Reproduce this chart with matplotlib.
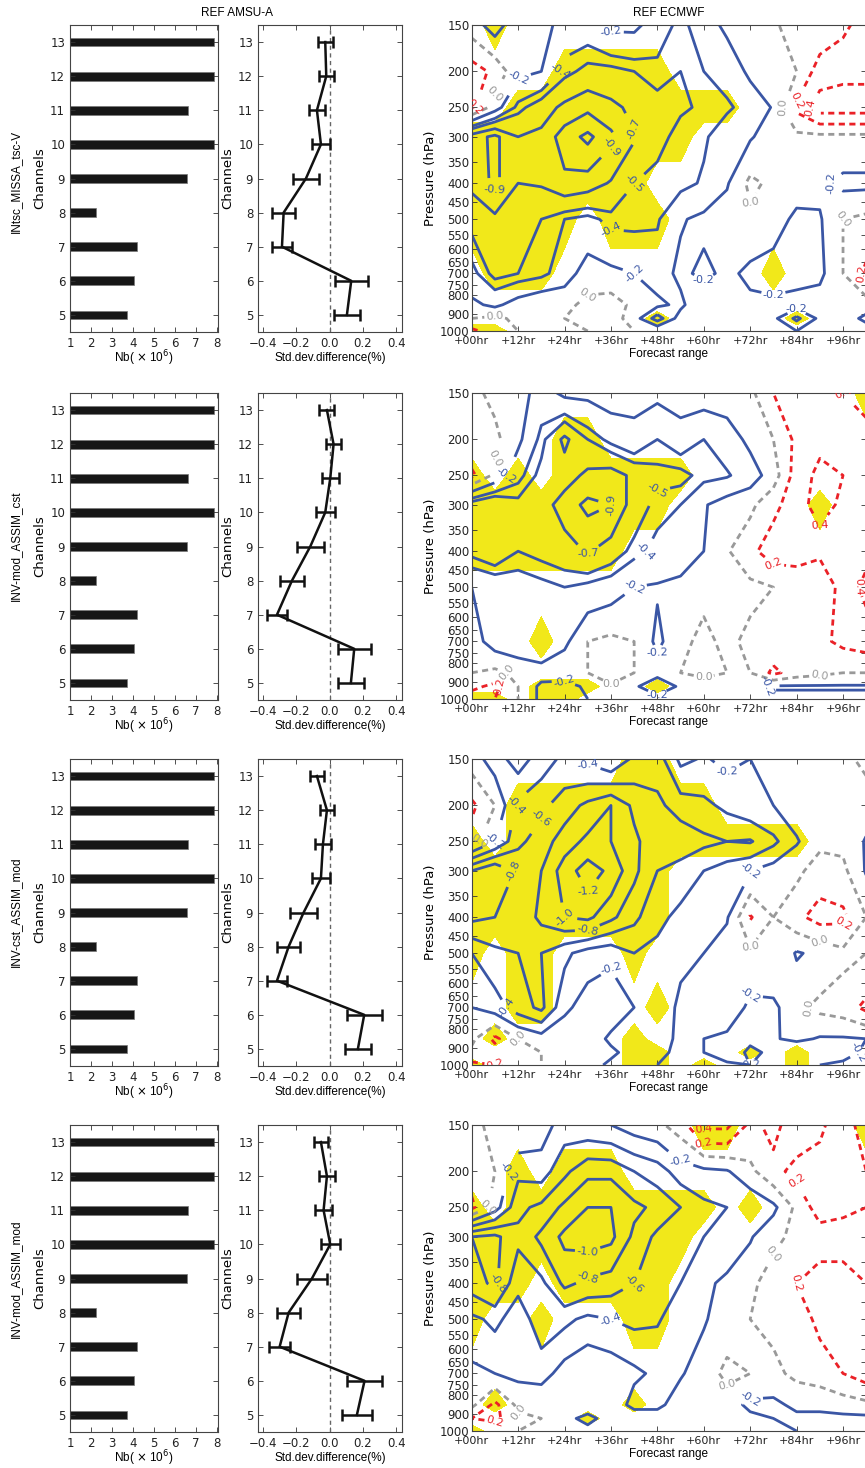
import numpy as np
import matplotlib
matplotlib.use("Agg")
import matplotlib.pyplot as plt

plt.rcParams['font.family'] = ['DejaVu Sans']

# ---------------- data ----------------
CHANNELS = [5, 6, 7, 8, 9, 10, 11, 12, 13]
NB = [3.72, 4.03, 4.19, 2.26, 6.57, 7.86, 6.60, 7.86, 7.84]

ROW_NAMES = ["INtsc_MISSA_tsc-V", "INV-mod_ASSIM_cst", "INV-cst_ASSIM_mod", "INV-mod_ASSIM_mod"]

STD_1 = [0.104, 0.13, -0.286, -0.276, -0.142, -0.052, -0.076, -0.02, -0.026]
ERR_1 = [0.08, 0.10, 0.06, 0.067, 0.08, 0.052, 0.047, 0.045, 0.044]
STD_2 = [0.128, 0.148, -0.316, -0.226, -0.116, -0.026, 0.004, 0.024, -0.016]
ERR_2 = [0.08, 0.10, 0.062, 0.074, 0.08, 0.056, 0.05, 0.045, 0.045]
STD_3 = [0.17, 0.208, -0.316, -0.246, -0.156, -0.052, -0.04, -0.016, -0.076]
ERR_3 = [0.08, 0.105, 0.06, 0.068, 0.08, 0.055, 0.05, 0.04, 0.042]
STD_4 = [0.164, 0.21, -0.30, -0.246, -0.106, 0.004, -0.036, -0.016, -0.052]
ERR_4 = [0.088, 0.107, 0.065, 0.07, 0.09, 0.057, 0.05, 0.047, 0.04]

FC_HOURS = [0, 6, 12, 18, 24, 30, 36, 42, 48, 54, 60, 66, 72, 78, 84, 90, 96, 102]
PLEVS = [150, 200, 250, 300, 400, 500, 700, 850, 925, 1000]
XTICK_HOURS = [0, 12, 24, 36, 48, 60, 72, 84, 96]
XTICK_LABELS = ["+00hr", "+12hr", "+24hr", "+36hr", "+48hr", "+60hr", "+72hr", "+84hr", "+96hr"]
YTICKS_P = [150, 200, 250, 300, 350, 400, 450, 500, 550, 600, 650, 700, 750, 800, 900, 1000]

# forecast-impact fields: rows follow PLEVS, columns follow FC_HOURS
FIELD_1 = [
    [-0.1, -0.3, -0.05, -0.1, -0.3, -0.3, -0.15, -0.15, -0.3, -0.45, -0.3, -0.15, 0.0, -0.05, 0.15, 0.05, 0.15, 0.3],
    [0.3, 0.15, -0.15, -0.2, -0.45, -0.55, -0.55, -0.5, -0.45, -0.5, -0.4, -0.35, -0.15, 0.0, 0.0, 0.3, 0.35, 0.35],
    [0.25, -0.1, -0.45, -0.6, -0.75, -0.85, -0.75, -0.65, -0.55, -0.52, -0.48, -0.42, -0.35, -0.18, 0.25, 0.5, 0.5, 0.5],
    [-0.8, -0.95, -0.7, -0.75, -1.0, -1.15, -0.95, -0.72, -0.55, -0.45, -0.42, -0.32, -0.22, -0.1, -0.05, -0.05, -0.05, -0.05],
    [-0.75, -0.95, -0.7, -0.72, -0.85, -0.8, -0.68, -0.5, -0.45, -0.45, -0.38, -0.22, 0.05, -0.05, -0.1, -0.15, -0.25, -0.25],
    [-0.55, -0.65, -0.55, -0.5, -0.4, -0.35, -0.45, -0.45, -0.42, -0.22, -0.15, -0.1, -0.05, -0.1, -0.25, -0.22, 0.0, 0.05],
    [-0.35, -0.55, -0.5, -0.45, -0.3, -0.1, -0.15, -0.2, -0.3, -0.15, -0.25, -0.15, -0.25, -0.3, -0.3, -0.25, 0.0, 0.25],
    [-0.15, -0.25, -0.1, 0.0, -0.05, 0.05, 0.1, -0.05, -0.15, -0.25, 0.0, -0.1, -0.15, -0.15, -0.1, -0.1, -0.15, -0.1],
    [0.0, 0.05, -0.05, -0.1, 0.0, 0.05, 0.1, -0.1, -0.5, -0.1, -0.05, -0.1, -0.2, -0.15, -0.45, -0.15, -0.1, -0.25],
    [0.25, 0.1, 0.0, -0.1, 0.0, 0.0, 0.05, 0.0, 0.0, 0.0, -0.05, -0.1, -0.15, -0.1, -0.2, -0.1, -0.1, -0.1],
]
FIELD_2 = [
    [0.05, -0.05, -0.1, -0.3, -0.15, -0.15, -0.1, -0.15, -0.15, -0.1, -0.1, -0.1, -0.05, 0.2, 0.3, 0.35, 0.4, 0.5],
    [0.0, 0.05, -0.15, -0.45, -0.75, -0.5, -0.35, -0.25, -0.4, -0.3, -0.4, -0.3, -0.15, 0.0, 0.25, 0.35, 0.35, 0.3],
    [0.25, -0.05, -0.35, -0.55, -0.6, -0.75, -0.8, -0.65, -0.55, -0.55, -0.45, -0.42, -0.3, -0.1, 0.3, 0.45, 0.4, 0.3],
    [-0.6, -0.7, -0.55, -0.6, -0.8, -0.95, -0.9, -0.6, -0.45, -0.4, -0.22, -0.1, -0.05, 0.15, 0.3, 0.5, 0.35, 0.3],
    [-0.55, -0.65, -0.5, -0.55, -0.6, -0.72, -0.6, -0.45, -0.35, -0.3, -0.2, -0.02, 0.15, 0.3, 0.3, 0.25, 0.3, 0.35],
    [-0.2, -0.25, -0.3, -0.35, -0.4, -0.35, -0.3, -0.2, -0.18, -0.15, -0.05, 0.0, -0.05, 0.0, 0.05, 0.0, 0.3, 0.45],
    [-0.1, -0.3, -0.35, -0.4, -0.25, 0.0, 0.05, 0.0, -0.25, -0.05, 0.05, -0.05, 0.05, 0.05, 0.1, 0.15, 0.25, 0.3],
    [0.0, 0.05, -0.05, -0.1, -0.05, 0.0, 0.2, 0.0, -0.1, 0.0, 0.05, 0.0, 0.0, 0.25, 0.1, 0.05, 0.0, 0.0],
    [0.15, 0.25, 0.0, -0.25, -0.3, -0.15, -0.05, -0.15, -0.4, -0.15, -0.1, -0.05, -0.15, -0.22, -0.22, -0.22, -0.22, -0.22],
    [0.3, 0.2, 0.0, -0.25, -0.25, -0.2, -0.15, -0.1, -0.1, -0.05, 0.0, 0.0, -0.1, -0.15, -0.15, -0.15, -0.15, -0.15],
]
FIELD_3 = [
    [-0.1, -0.3, -0.1, -0.3, -0.45, -0.35, -0.2, -0.45, -0.5, -0.15, -0.22, -0.15, -0.2, -0.1, -0.05, 0.0, -0.05, 0.05],
    [0.25, 0.0, -0.45, -0.55, -0.7, -0.85, -1.0, -0.75, -0.65, -0.5, -0.45, -0.35, -0.25, -0.2, -0.1, 0.0, -0.05, -0.1],
    [0.1, -0.2, -0.55, -0.7, -0.9, -1.05, -1.0, -0.85, -0.65, -0.75, -0.65, -0.6, -0.62, -0.45, -0.22, -0.05, -0.05, -0.22],
    [-0.8, -1.0, -0.75, -0.8, -1.1, -1.3, -1.15, -0.85, -0.6, -0.5, -0.4, -0.3, -0.2, -0.1, -0.05, 0.1, 0.05, -0.22],
    [-0.85, -0.8, -0.65, -0.85, -1.0, -1.05, -0.85, -0.65, -0.45, -0.35, -0.3, -0.22, 0.22, 0.0, 0.15, 0.28, 0.25, 0.0],
    [-0.4, -0.55, -0.6, -0.6, -0.45, -0.3, -0.25, -0.4, -0.35, -0.25, -0.2, -0.1, -0.05, 0.0, -0.22, -0.15, -0.05, 0.0],
    [-0.2, -0.3, -0.5, -0.65, -0.25, -0.1, -0.05, -0.2, -0.35, -0.15, -0.1, -0.05, -0.25, -0.25, -0.05, 0.05, 0.1, 0.25],
    [-0.05, 0.25, 0.0, -0.1, -0.05, -0.05, -0.25, -0.3, -0.3, -0.15, -0.2, -0.25, -0.25, -0.22, -0.15, -0.22, -0.22, -0.2],
    [0.05, 0.1, 0.05, 0.0, -0.05, -0.1, -0.15, -0.3, -0.25, -0.15, -0.2, -0.35, -0.15, -0.25, -0.4, -0.3, -0.3, -0.15],
    [0.25, 0.2, 0.05, 0.0, -0.05, -0.1, -0.25, -0.25, -0.2, -0.1, -0.15, -0.15, -0.2, -0.2, -0.3, -0.2, -0.15, -0.1],
]
FIELD_4 = [
    [0.05, -0.05, 0.0, -0.1, -0.3, -0.25, -0.2, -0.1, -0.05, 0.1, 0.45, 0.45, 0.15, 0.25, 0.1, 0.15, 0.35, 0.45],
    [0.1, 0.0, -0.35, -0.3, -0.55, -0.75, -0.75, -0.6, -0.5, -0.3, -0.25, -0.22, -0.05, 0.15, 0.25, 0.3, 0.35, 0.4],
    [0.25, -0.1, -0.55, -0.65, -0.85, -1.0, -1.0, -0.85, -0.75, -0.6, -0.45, -0.4, -0.38, -0.25, 0.05, 0.3, 0.25, 0.2],
    [-0.8, -0.85, -0.65, -0.85, -1.05, -1.1, -1.05, -0.75, -0.55, -0.45, -0.4, -0.35, -0.22, -0.05, 0.05, 0.1, 0.1, 0.15],
    [-0.7, -0.85, -0.45, -0.55, -0.85, -0.75, -0.7, -0.6, -0.5, -0.4, -0.25, -0.15, -0.05, 0.1, 0.2, 0.3, 0.3, 0.2],
    [-0.35, -0.45, -0.3, -0.5, -0.45, -0.35, -0.4, -0.45, -0.42, -0.3, -0.22, -0.1, 0.0, 0.05, 0.1, 0.25, 0.3, 0.3],
    [-0.15, -0.2, -0.25, -0.3, -0.1, 0.0, -0.05, -0.15, -0.25, -0.22, -0.1, 0.05, 0.0, -0.05, 0.05, 0.1, 0.2, 0.3],
    [-0.05, 0.25, -0.05, 0.0, 0.0, 0.0, 0.0, -0.3, -0.25, -0.1, -0.05, -0.1, -0.25, -0.25, -0.15, -0.15, -0.1, -0.05],
    [0.2, 0.25, 0.05, 0.0, -0.1, -0.3, -0.05, 0.0, -0.1, -0.15, -0.1, -0.1, -0.15, -0.2, -0.25, -0.25, -0.25, -0.25],
    [0.1, 0.05, 0.0, -0.05, -0.05, -0.1, 0.0, -0.05, -0.1, -0.15, -0.05, -0.1, -0.1, -0.15, -0.2, -0.2, -0.3, -0.2],
]

# significance masks (1 = shaded), rows follow PLEVS, columns follow FC_HOURS
SIG_1 = ["010000000000000000", "000011111000000000", "001111111111000000", "111111111100000000",
         "111111110000000000", "111110111000000000", "011100000000010000", "000000000000000000",
         "000000001000001000", "110000000000000000"]
SIG_2 = ["000000000000000001", "000011000000000000", "101011111100000000", "111111111000000100",
         "111111100000000000", "000000000000000000", "000100000000000000", "000000000000000000",
         "000111001000000000", "110110000000000000"]
SIG_3 = ["000000011000000000", "001111111110000000", "101111111111111000", "111111111000000000",
         "111111111000000000", "101100010000000000", "001100001000000000", "010000010000000000",
         "000000011000101000", "100000011010001000"]
SIG_4 = ["000000000011000001", "001011100000000000", "101111111110100000", "111111111100000000",
         "111011111000000000", "100100011000000000", "000000000000000000", "010000010000000000",
         "000001000000000000", "100000000000000000"]

NEG_LEVELS = [
    [-1.1, -0.9, -0.7, -0.5, -0.4, -0.2],
    [-0.9, -0.7, -0.5, -0.4, -0.2],
    [-1.2, -1.0, -0.8, -0.6, -0.4, -0.2],
    [-1.0, -0.8, -0.6, -0.4, -0.2],
]
POS_LEVELS = [0.2, 0.4]

STDS = [STD_1, STD_2, STD_3, STD_4]
ERRS = [ERR_1, ERR_2, ERR_3, ERR_4]
FIELDS = [FIELD_1, FIELD_2, FIELD_3, FIELD_4]
SIGS = [SIG_1, SIG_2, SIG_3, SIG_4]

# ---------------- styling ----------------
W, H = 865, 1468
BLUE = '#3a56a5'
RED = '#ea2127'
GRAY = '#999999'
YELLOW = '#f1e81a'
SANS2 = ['Liberation Sans', 'DejaVu Sans']
TICK_FS = 8.5
YLAB_FS = 9.5
XLAB_FS = 8.5

fig = plt.figure(figsize=(W / 100, H / 100), dpi=100)


def ax_px(l, t, w, h):
    return fig.add_axes([l / W, 1 - (t + h) / H, w / W, h / H])


def style(ax):
    ax.tick_params(direction='in', top=True, right=True, labelsize=TICK_FS, length=3.5, width=0.6,
                   colors='#333333', labelcolor='#222222')
    for s in ax.spines.values():
        s.set_linewidth(0.8)
        s.set_color('#444444')


def place_xlabel(ax, dy_px, h_px):
    ax.xaxis.set_label_coords(0.5, -dy_px / h_px)
    ax.xaxis.label.set_va('center')


ROW_TOPS = [25, 393, 759, 1125]
ROW_LABEL_Y = [181, 546, 912, 1279]
AH = 307
X0 = 471.7
PX_PER_HR = 3.868

T, P = np.meshgrid(FC_HOURS, PLEVS)

for r in range(4):
    top = ROW_TOPS[r]
    # ---- bar panel ----
    ax1 = ax_px(70, top, 148, AH)
    ax1.barh(CHANNELS, NB, height=0.26, color='#161616', edgecolor='#777777', linewidth=0.5)
    ax1.set_xlim(1, 8.05)
    ax1.set_ylim(4.5, 13.5)
    ax1.set_xticks([1, 2, 3, 4, 5, 6, 7, 8])
    ax1.set_yticks(CHANNELS)
    ax1.set_ylabel('Channels', fontsize=YLAB_FS, labelpad=3)
    ax1.set_xlabel(r'Nb( $\times$ 10$^6$)', fontsize=XLAB_FS, family=SANS2)
    style(ax1)
    place_xlabel(ax1, 26, AH)
    fig.text(16 / W, 1 - ROW_LABEL_Y[r] / H, ROW_NAMES[r], rotation=90, ha='center', va='center',
             fontsize=8.5, family=SANS2)

    # ---- std panel ----
    ax2 = ax_px(258, top, 144, AH)
    ax2.axvline(0, color='#666666', lw=1.0, ls=(0, (3, 2.5)))
    ax2.errorbar(STDS[r], CHANNELS, xerr=ERRS[r], color='#111111', lw=1.8, elinewidth=1.8,
                 capsize=4, capthick=1.8)
    ax2.set_xlim(-0.43, 0.435)
    ax2.set_ylim(4.5, 13.5)
    ax2.set_xticks([-0.4, -0.2, 0.0, 0.2, 0.4])
    ax2.set_xticklabels(['\u22120.4', '\u22120.2', '0.0', '0.2', '0.4'])
    ax2.set_yticks(CHANNELS)
    ax2.set_ylabel('Channels', fontsize=YLAB_FS, labelpad=3)
    ax2.set_xlabel('Std.dev.difference(%)', fontsize=XLAB_FS, family=SANS2)
    style(ax2)
    place_xlabel(ax2, 26, AH)

    # ---- contour panel ----
    ax3 = ax_px(X0, top, PX_PER_HR * 102, AH - 1)
    Z = np.array(FIELDS[r], dtype=float)
    S = np.array([[int(c) for c in row] for row in SIGS[r]], dtype=float)
    ax3.contourf(T, P, S, levels=[0.5, 1.5], colors=[YELLOW])
    cn = ax3.contour(T, P, Z, levels=NEG_LEVELS[r], colors=BLUE, linewidths=2.0, linestyles='solid')
    c0 = ax3.contour(T, P, Z, levels=[0.0], colors=GRAY, linewidths=2.0, linestyles=[(0, (2.2, 1.6))])
    cp = ax3.contour(T, P, Z, levels=POS_LEVELS, colors=RED, linewidths=2.0, linestyles=[(0, (2.2, 1.6))])
    for cs in (cn, c0, cp):
        ax3.clabel(cs, fmt='%.1f', fontsize=8, inline=True, inline_spacing=2)
    ax3.set_yscale('log')
    ax3.set_ylim(1000, 150)
    ax3.set_xlim(0, 102)
    ax3.set_yticks(YTICKS_P)
    ax3.set_yticklabels([str(v) for v in YTICKS_P])
    ax3.minorticks_off()
    ax3.set_xticks(XTICK_HOURS)
    ax3.set_xticklabels(XTICK_LABELS)
    ax3.set_ylabel('Pressure (hPa)', fontsize=YLAB_FS, labelpad=2)
    ax3.set_xlabel('Forecast range', fontsize=XLAB_FS, family=SANS2)
    style(ax3)
    ax3.tick_params(axis='y', pad=1.5)
    ax3.tick_params(axis='x', pad=3.5, labelsize=8)
    place_xlabel(ax3, 23, AH - 1)

fig.text(237 / W, 1 - 13 / H, 'REF AMSU-A', ha='center', va='center', fontsize=XLAB_FS, family=SANS2)
fig.text(669 / W, 1 - 13 / H, 'REF ECMWF', ha='center', va='center', fontsize=XLAB_FS, family=SANS2)

fig.savefig('out.png', dpi=100)
